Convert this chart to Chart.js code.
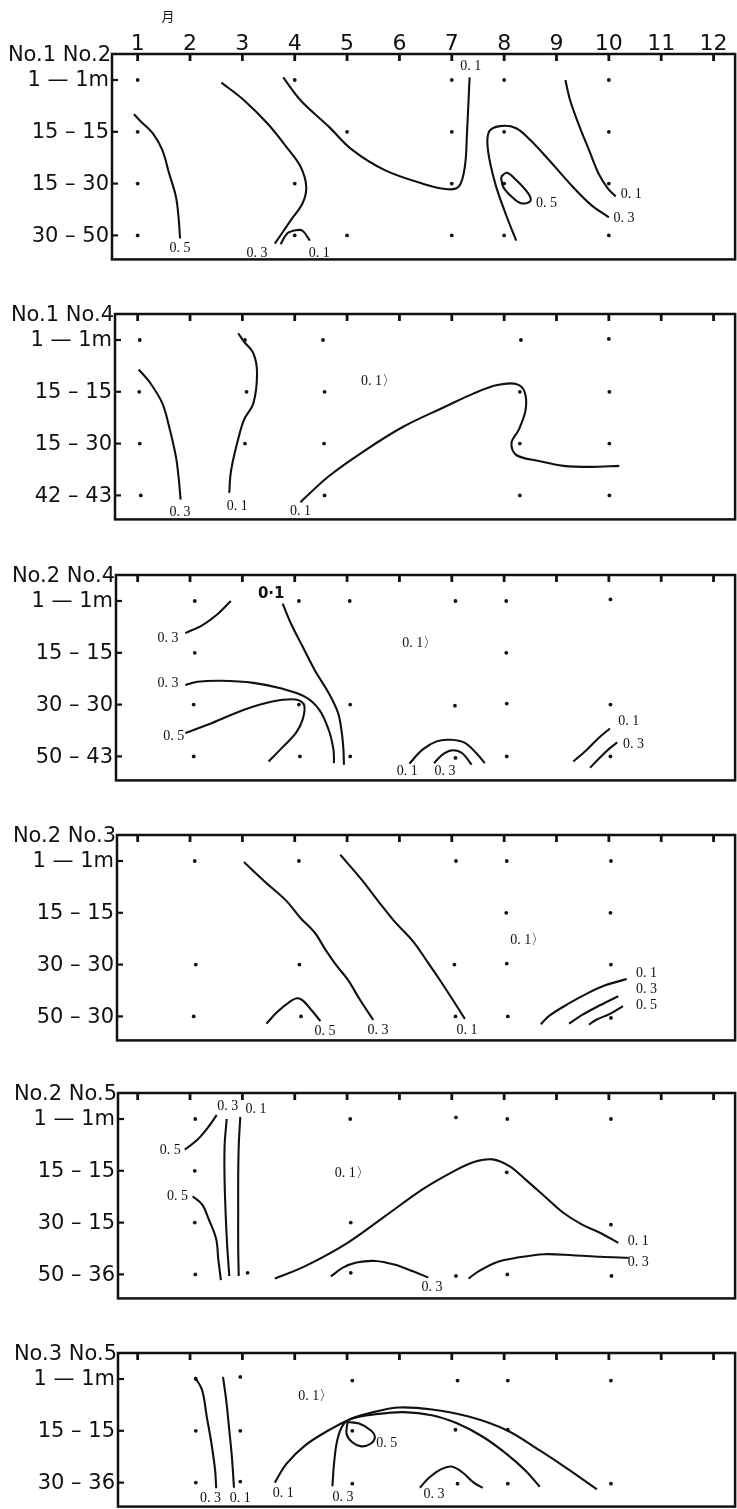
<!DOCTYPE html>
<html><head><meta charset="utf-8">
<script src="https://cdn.jsdelivr.net/npm/chart.js@4.4.1/dist/chart.umd.min.js"></script>
<style>
html,body{margin:0;padding:0;background:#fff;}
#wrap{position:relative;width:737px;height:1509px;overflow:hidden;background:#fff;}
#wrap canvas{position:absolute;left:0;}
</style></head><body><div id="wrap"></div>
<script>
// ---------- shared axis data ----------
const monthTicks = [1,2,3,4,5,6,7,8,9,10,11,12];
const monthLabels = ["1","2","3","4","5","6","7","8","9","10","11","12"];
const monthUnit = "月";

// ---------- panel 1 : No.1 No.2 ----------
const p1Title = "No.1 No.2";
const p1Rows = ["1 — 1m","15 – 15","15 – 30","30 – 50"];
const p1Samples = [[1,0],[4,0],[7,0],[8,0],[10,0],[1,1],[5,1],[7,1],[8,1],[10,1],[1,2],[4,2],[7,2],[8,2],[10,2],[1,3],[4,3],[5,3],[7,3],[8,3],[10,3]];
const p1Iso05a = [[0.93,0.66],[1.06,0.80],[1.29,1.03],[1.47,1.35],[1.60,1.80],[1.73,2.25],[1.78,2.64],[1.81,3.06]];
const p1Iso03a = [[2.60,0.05],[3.03,0.39],[3.48,0.84],[3.84,1.29],[4.11,1.67],[4.22,2.06],[4.15,2.38],[3.93,2.70],[3.62,3.16]];
const p1Iso01a = [[3.73,3.17],[3.86,2.96],[4.02,2.90],[4.15,2.91],[4.29,3.10]];
const p1Iso01b = [[3.78,-0.05],[4.11,0.39],[4.65,0.90],[5.10,1.35],[5.72,1.74],[6.44,2.00],[6.93,2.11],[7.14,2.05],[7.25,1.67],[7.29,1.03],[7.32,0.39],[7.34,-0.05]];
const p1Iso03b = [[8.23,3.10],[8.05,2.64],[7.83,2.00],[7.69,1.35],[7.71,1.00],[7.92,0.89],[8.23,0.93],[8.50,1.16],[8.86,1.55],[9.31,2.06],[9.66,2.41],[10.00,2.65]];
const p1Iso05b = [[7.94,1.87],[8.05,1.79],[8.23,1.93],[8.46,2.19],[8.50,2.34],[8.32,2.38],[8.14,2.25],[7.98,2.06],[7.94,1.87]];
const p1Iso01c = [[9.17,0.00],[9.26,0.39],[9.44,0.90],[9.62,1.35],[9.80,1.80],[9.98,2.09],[10.13,2.25]];
const p1Labels = [["0. 5",1.81,3.25],["0. 3",3.28,3.35],["0. 1",4.47,3.35],["0. 1",7.36,-0.26],["0. 5",8.81,2.39],["0. 1",10.43,2.20],["0. 3",10.29,2.67]];

// ---------- panel 2 : No.1 No.4 ----------
const p2Title = "No.1 No.4";
const p2Rows = ["1 — 1m","15 – 15","15 – 30","42 – 43"];
const p2Samples = [[1.04,0],[3.05,0],[4.54,0],[8.32,0],[10.0,-0.02],[1.03,1],[3.08,1],[4.57,1],[8.30,1],[10.01,1],[1.04,2],[3.05,2],[4.56,2],[8.30,2],[10.01,2],[1.06,3],[4.57,3],[8.30,3],[10.01,3]];
const p2Iso03 = [[1.02,0.57],[1.24,0.83],[1.47,1.22],[1.60,1.67],[1.73,2.25],[1.78,2.63],[1.82,3.08]];
const p2Iso01a = [[2.92,-0.13],[3.03,0.03],[3.21,0.26],[3.28,0.64],[3.21,1.22],[3.03,1.54],[2.90,1.99],[2.81,2.38],[2.77,2.63],[2.75,2.95]];
const p2Iso01b = [[4.11,3.13],[4.65,2.63],[5.36,2.12],[6.08,1.67],[6.89,1.28],[7.42,1.03],[7.87,0.87],[8.23,0.85],[8.39,1.00],[8.41,1.35],[8.28,1.73],[8.14,1.99],[8.23,2.22],[8.68,2.34],[9.13,2.43],[9.66,2.45],[10.20,2.43]];
const p2Labels = [["0. 3",1.81,3.32],["0. 1",2.90,3.21],["0. 1",4.11,3.31],["0. 1〉",5.60,0.80]];

// ---------- panel 3 : No.2 No.4 ----------
const p3Title = "No.2 No.4";
const p3Rows = ["1 — 1m","15 – 15","30 – 30","50 – 43"];
const p3Samples = [[2.09,0],[4.08,0],[5.05,0],[7.07,0],[8.04,0],[10.03,-0.03],[2.09,1],[8.04,1],[2.07,2],[4.08,2],[5.06,2],[7.06,2.02],[8.05,1.98],[10.03,2],[2.07,3],[4.10,3],[5.06,3],[7.07,3.03],[8.05,3],[10.03,3]];
const p3Iso03a = [[1.91,0.62],[2.23,0.47],[2.54,0.24],[2.78,0.00]];
const p3Iso03b = [[1.91,1.62],[2.14,1.56],[2.59,1.54],[3.21,1.58],[3.75,1.69],[4.20,1.85],[4.47,2.10],[4.65,2.49],[4.74,2.87],[4.75,3.13]];
const p3Iso05 = [[1.91,2.55],[2.41,2.36],[3.03,2.10],[3.57,1.94],[4.02,1.90],[4.18,2.01],[4.15,2.29],[4.02,2.55],[3.75,2.84],[3.50,3.10]];
const p3Iso01a = [[3.77,0.05],[3.93,0.44],[4.15,0.88],[4.38,1.33],[4.65,1.78],[4.83,2.17],[4.90,2.55],[4.93,2.87],[4.94,3.16]];
const p3Iso01b = [[6.19,3.14],[6.44,2.87],[6.71,2.71],[6.98,2.68],[7.25,2.74],[7.47,2.94],[7.63,3.13]];
const p3Iso03c = [[6.66,3.13],[6.84,2.95],[7.02,2.88],[7.20,2.94],[7.38,3.16]];
const p3Iso01c = [[9.32,3.10],[9.58,2.87],[9.80,2.65],[10.02,2.46]];
const p3Iso03d = [[9.64,3.22],[9.85,3.00],[10.02,2.84],[10.16,2.73]];
const p3Labels = [["0. 3",1.58,0.72],["0. 3",1.58,1.59],["0. 5",1.69,2.62],["0. 1",6.15,3.29],["0. 3",6.87,3.29],["0. 1",10.38,2.33],["0. 3",10.47,2.76],["0. 1〉",6.39,0.81]];
const p3HandLabels = [["0·1",3.55,-0.14]];

// ---------- panel 4 : No.2 No.3 ----------
const p4Title = "No.2 No.3";
const p4Rows = ["1 — 1m","15 – 15","30 – 30","50 – 30"];
const p4Samples = [[2.09,0],[4.08,0],[7.08,0],[8.05,0],[10.04,0],[8.04,1],[10.03,1],[2.11,2],[4.09,2],[7.05,2],[8.05,1.98],[10.04,2],[2.07,3],[4.12,3],[7.07,3],[8.07,3],[10.04,3.03]];
const p4Iso05a = [[3.46,3.14],[3.66,2.92],[3.89,2.73],[4.04,2.65],[4.15,2.69],[4.33,2.89],[4.49,3.09]];
const p4Iso03a = [[3.03,0.02],[3.44,0.41],[3.84,0.77],[4.11,1.10],[4.38,1.38],[4.58,1.70],[4.80,2.02],[5.02,2.30],[5.24,2.67],[5.50,3.07]];
const p4Iso01a = [[4.87,-0.12],[5.27,0.35],[5.59,0.77],[5.90,1.16],[6.26,1.55],[6.53,1.94],[6.80,2.34],[7.07,2.76],[7.25,3.05]];
const p4Iso01b = [[8.70,3.15],[8.86,2.99],[9.22,2.76],[9.58,2.56],[9.93,2.40],[10.34,2.28]];
const p4Iso03b = [[9.24,3.14],[9.49,2.97],[9.84,2.78],[10.18,2.61]];
const p4Iso05b = [[9.62,3.16],[9.75,3.07],[10.02,2.95],[10.27,2.80]];
const p4Labels = [["0. 5",4.58,3.29],["0. 3",5.59,3.26],["0. 1",7.29,3.26],["0. 1",10.72,2.16],["0. 3",10.72,2.47],["0. 5",10.72,2.78],["0. 1〉",8.45,1.53]];

// ---------- panel 5 : No.2 No.5 ----------
const p5Title = "No.2 No.5";
const p5Rows = ["1 — 1m","15 – 15","30 – 15","50 – 36"];
const p5Samples = [[2.10,0],[5.06,0],[7.08,-0.03],[8.06,0],[10.04,0],[2.09,1],[8.05,1.03],[2.09,2],[5.07,2],[10.04,2.04],[2.10,3],[3.10,2.97],[5.07,2.97],[7.08,3.03],[8.06,3],[10.05,3.03]];
const p5Iso05a = [[1.90,0.59],[2.14,0.40],[2.36,0.14],[2.51,-0.08]];
const p5Iso03a = [[2.70,0.00],[2.66,0.53],[2.66,1.17],[2.68,1.81],[2.71,2.45],[2.75,3.03]];
const p5Iso01a = [[2.96,-0.04],[2.93,0.53],[2.92,1.17],[2.92,1.81],[2.92,2.45],[2.93,3.03]];
const p5Iso05b = [[2.05,1.49],[2.23,1.65],[2.36,1.94],[2.50,2.32],[2.54,2.71],[2.59,3.11]];
const p5Iso01b = [[3.62,3.08],[4.20,2.84],[5.01,2.39],[5.72,1.88],[6.44,1.36],[6.98,1.04],[7.42,0.83],[7.78,0.78],[8.10,0.91],[8.41,1.17],[8.77,1.49],[9.13,1.81],[9.49,2.04],[9.84,2.20],[10.18,2.39]];
const p5Iso03b = [[4.69,3.04],[4.92,2.87],[5.18,2.77],[5.54,2.74],[5.90,2.81],[6.26,2.94],[6.55,3.06]];
const p5Iso03c = [[7.32,3.08],[7.51,2.94],[7.87,2.76],[8.23,2.68],[8.77,2.61],[9.31,2.63],[9.84,2.66],[10.38,2.68]];
const p5Labels = [["0. 5",1.62,0.61],["0. 3",2.72,-0.24],["0. 1",3.26,-0.19],["0. 5",1.76,1.49],["0. 1",10.56,2.36],["0. 3",6.62,3.24],["0. 3",10.56,2.77],["0. 1〉",5.10,1.04]];

// ---------- panel 6 : No.3 No.5 ----------
const p6Title = "No.3 No.5";
const p6Rows = ["1 — 1m","15 – 15","30 – 36\u0304"];
const p6Samples = [[2.11,0],[2.96,-0.04],[5.10,0.03],[7.11,0.03],[8.07,0.03],[10.04,0.03],[2.11,1],[2.96,1],[5.10,1],[7.07,0.98],[8.07,0.98],[2.11,2],[2.96,1.98],[5.10,2.02],[7.11,2.02],[8.07,2.02],[10.04,2.02]];
const p6Iso03a = [[2.09,-0.04],[2.23,0.21],[2.32,0.73],[2.41,1.25],[2.48,1.77],[2.50,2.11]];
const p6Iso01a = [[2.63,-0.04],[2.69,0.40],[2.75,0.99],[2.80,1.51],[2.84,2.10]];
const p6Iso01b = [[3.62,2.00],[3.84,1.64],[4.20,1.28],[4.65,0.99],[5.05,0.78],[5.54,0.63],[5.99,0.55],[6.62,0.59],[7.34,0.73],[8.05,0.99],[8.68,1.38],[9.22,1.74],[9.77,2.13]];
const p6Iso03b = [[4.72,2.07],[4.75,1.64],[4.81,1.19],[4.92,0.89],[5.10,0.76],[5.54,0.68],[6.08,0.64],[6.62,0.70],[7.11,0.86],[7.60,1.12],[8.05,1.45],[8.41,1.77],[8.68,2.08]];
const p6Iso05 = [[5.01,0.83],[5.23,0.86],[5.45,0.99],[5.53,1.12],[5.45,1.25],[5.27,1.30],[5.10,1.22],[4.99,1.06],[5.01,0.83]];
const p6Iso03c = [[6.39,2.10],[6.57,1.90],[6.80,1.74],[6.99,1.69],[7.20,1.80],[7.42,2.00],[7.59,2.10]];
const p6Labels = [["0. 3",2.39,2.31],["0. 1",2.96,2.31],["0. 1",3.78,2.20],["0. 3",4.92,2.29],["0. 5",5.76,1.25],["0. 3",6.66,2.23],["0. 1〉",4.40,0.33]];

// ---------- assembly ----------
const panels = [
  {title:p1Title, rows:p1Rows, samples:p1Samples, lines:[p1Iso05a,p1Iso03a,p1Iso01a,p1Iso01b,p1Iso03b,p1Iso05b,p1Iso01c], labels:p1Labels, hand:[], header:true},
  {title:p2Title, rows:p2Rows, samples:p2Samples, lines:[p2Iso03,p2Iso01a,p2Iso01b], labels:p2Labels, hand:[]},
  {title:p3Title, rows:p3Rows, samples:p3Samples, lines:[p3Iso03a,p3Iso03b,p3Iso05,p3Iso01a,p3Iso01b,p3Iso03c,p3Iso01c,p3Iso03d], labels:p3Labels, hand:p3HandLabels},
  {title:p4Title, rows:p4Rows, samples:p4Samples, lines:[p4Iso05a,p4Iso03a,p4Iso01a,p4Iso01b,p4Iso03b,p4Iso05b], labels:p4Labels, hand:[]},
  {title:p5Title, rows:p5Rows, samples:p5Samples, lines:[p5Iso05a,p5Iso03a,p5Iso01a,p5Iso05b,p5Iso01b,p5Iso03b,p5Iso03c], labels:p5Labels, hand:[]},
  {title:p6Title, rows:p6Rows, samples:p6Samples, lines:[p6Iso03a,p6Iso01a,p6Iso01b,p6Iso03b,p6Iso05,p6Iso03c], labels:p6Labels, hand:[]}
];

// layout (pixels)
const BOX_TOPS = [54, 314, 575, 835, 1093, 1353];
const BOX_LEFTS = [112, 115, 116, 117, 118, 118];
const BOX_RIGHT = 736;
const ROW_PX = 51.8, MONTH_PX = 52.43, MONTH1_PX = 137.7;
const TOP_GAP = 26, BOTTOM_GAP = 24;
const FONT_LAB = '21px "DejaVu Sans"';
const FONT_ISO = '14px "Liberation Serif"';

const toXY = arr => arr.map(([x, y]) => ({x, y}));

function framePlugin(p, idx) {
  return {
    id: 'frame' + idx,
    afterDraw(chart) {
      const {ctx, chartArea: a, scales: {x, y}} = chart;
      ctx.save();
      ctx.strokeStyle = '#111';
      ctx.fillStyle = '#111';
      ctx.lineWidth = 2.5;
      ctx.strokeRect(a.left, a.top, a.right - a.left, a.bottom - a.top);
      ctx.lineWidth = 2.8;
      monthTicks.forEach(m => {
        const px = x.getPixelForValue(m);
        ctx.beginPath(); ctx.moveTo(px, a.top); ctx.lineTo(px, a.top + 7); ctx.stroke();
      });
      ctx.lineWidth = 2.2;
      p.rows.forEach((lab, i) => {
        const py = y.getPixelForValue(i);
        ctx.beginPath(); ctx.moveTo(a.left, py); ctx.lineTo(a.left + 6, py); ctx.stroke();
        ctx.font = FONT_LAB; ctx.textAlign = 'right'; ctx.textBaseline = 'middle';
        ctx.fillText(lab, a.left - 3, py + 1);
      });
      ctx.font = FONT_LAB; ctx.textAlign = 'right'; ctx.textBaseline = 'alphabetic';
      ctx.fillText(p.title, a.left - 1, a.top + 7);
      if (p.header) {
        ctx.font = '22px "DejaVu Sans"'; ctx.textAlign = 'center';
        monthTicks.forEach((m, i) => ctx.fillText(monthLabels[i], x.getPixelForValue(m), a.top - 4));
        ctx.font = '13px "Noto Sans CJK JP"';
        ctx.fillText(monthUnit, x.getPixelForValue(1.58), a.top - 33);
      }
      ctx.font = FONT_ISO; ctx.textAlign = 'center'; ctx.textBaseline = 'middle';
      p.labels.forEach(([t, m, r]) => ctx.fillText(t, x.getPixelForValue(m), y.getPixelForValue(r)));
      ctx.font = 'bold 15px "DejaVu Sans"';
      p.hand.forEach(([t, m, r]) => ctx.fillText(t, x.getPixelForValue(m), y.getPixelForValue(r)));
      ctx.restore();
    }
  };
}

const wrap = document.getElementById('wrap');
panels.forEach((p, i) => {
  const n = p.rows.length;
  const boxTop = BOX_TOPS[i], boxLeft = BOX_LEFTS[i];
  const boxH = TOP_GAP + (n - 1) * ROW_PX + BOTTOM_GAP;
  const padTop = i === 0 ? boxTop : 34;
  const H = Math.round(padTop + boxH + 6);
  const padBottom = H - padTop - boxH;
  const cv = document.createElement('canvas');
  cv.width = 737; cv.height = H;
  cv.style.top = (boxTop - padTop) + 'px';
  cv.style.width = '737px'; cv.style.height = H + 'px';
  wrap.appendChild(cv);

  const datasets = [{
    data: toXY(p.samples), showLine: false, pointRadius: 1.9, pointHoverRadius: 1.9,
    pointBackgroundColor: '#111', pointBorderWidth: 0
  }];
  p.lines.forEach(l => datasets.push({
    data: toXY(l), showLine: true, pointRadius: 0, borderColor: '#111', borderWidth: 2.1,
    tension: 0.35, fill: false
  }));

  new Chart(cv, {
    type: 'scatter',
    data: {datasets},
    options: {
      responsive: false, animation: false, devicePixelRatio: 1,
      layout: {padding: {left: boxLeft, right: 737 - BOX_RIGHT, top: padTop, bottom: padBottom}},
      scales: {
        x: {type: 'linear', display: false, min: 1 - (MONTH1_PX - boxLeft) / MONTH_PX, max: 1 + (BOX_RIGHT - MONTH1_PX) / MONTH_PX},
        y: {type: 'linear', display: false, reverse: true, min: -TOP_GAP / ROW_PX, max: (n - 1) + BOTTOM_GAP / ROW_PX}
      },
      plugins: {legend: {display: false}, tooltip: {enabled: false}}
    },
    plugins: [framePlugin(p, i)]
  });
});
</script>
</body></html>
